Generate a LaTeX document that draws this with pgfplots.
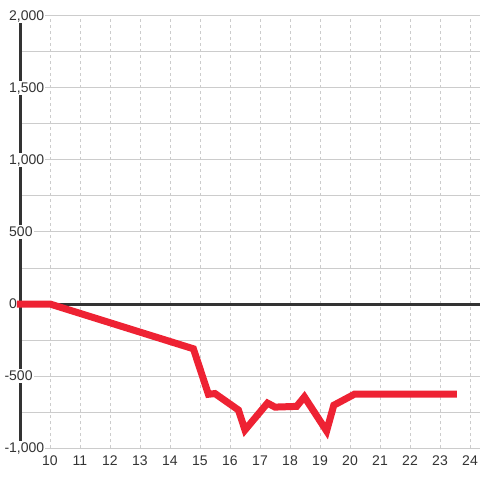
\documentclass[border=0pt]{standalone}
\usepackage{fontspec}
\setmainfont{Liberation Sans}
\usepackage{pgfplots}
\pgfplotsset{compat=1.18}
\definecolor{linered}{HTML}{EE2233}
\definecolor{axisdark}{HTML}{333333}
\definecolor{gridgray}{HTML}{CCCCCC}
\definecolor{textgray}{HTML}{333333}
\begin{document}
\begin{tikzpicture}
\useasboundingbox (-20bp,-32bp) rectangle (460bp,448bp);
\begin{axis}[
  at={(0,0)}, anchor=south west,
  scale only axis, width=460bp, height=432bp,
  xmin=9.0, xmax=24.3333, ymin=-1000, ymax=2000,
  clip=false,
  axis lines*=left,
  separate axis lines,
  x axis line style={draw=none},
  y axis line style={axisdark, line width=3bp},
  major tick length=0pt, minor tick length=0pt,
  xtick={10,...,24},
  ytick={-1000,-500,0,500,1000,1500,2000},
  yticklabels={{\llap{-}1,000},{\llap{-}500},0,500,{1,000},{1,500},{2,000}},
  minor y tick num=1,
  xmajorgrids, ymajorgrids, yminorgrids,
  x grid style={gridgray, line width=1bp, dash pattern=on 3bp off 3bp},
  y grid style={gridgray, line width=1bp},
  minor y grid style={gridgray, line width=1bp},
  extra y ticks={0}, extra y tick labels={},
  extra y tick style={y grid style={axisdark, line width=3bp, solid}, yticklabel style={fill=none}},
  /pgf/number format/assume math mode=true,
  tick label style={font=\fontsize{14bp}{16bp}\selectfont, text=textgray},
  xticklabel style={anchor=north, inner sep=0pt, yshift=-8bp},
  yticklabel style={anchor=west, inner xsep=1bp, inner ysep=2bp, fill=white, xshift=-12bp, text depth=0pt},
]
\addplot[linered, line width=7bp, mark=none] coordinates {
(8.9,0) (10,0) (14.78,-311) (15.28,-627) (15.5,-622) (16.28,-736) (16.5,-875)
(17.25,-688) (17.5,-716) (18.22,-711) (18.48,-645) (19.22,-882) (19.46,-703)
(20.16,-625) (23.56,-625)
};
\end{axis}
\end{tikzpicture}
\end{document}
